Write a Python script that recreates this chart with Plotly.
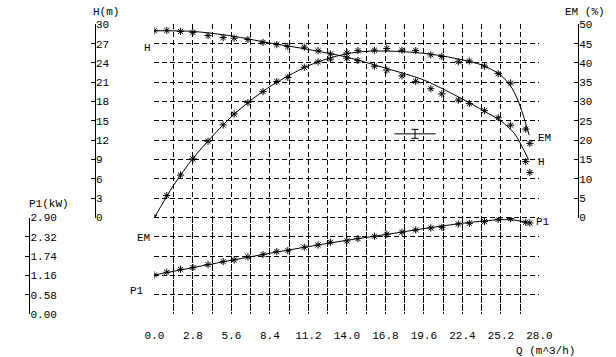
import plotly.graph_objects as go

W, HGT = 616, 357
def px(x):
    return x / W
def py(y):
    return 1 - y / HGT

# ---------------- data ----------------
Q_pts = [0.0, 0.9, 1.9, 2.8, 3.9, 5.0, 5.8, 6.8, 7.9, 8.9, 9.7, 10.9, 11.9, 12.8,
         14.0, 14.8, 16.0, 16.9, 18.0, 19.0, 20.1, 20.9, 22.1, 22.9, 24.0, 25.0,
         25.9, 27.0, 27.3]
H_pts = [29.0, 29.05, 28.9, 28.75, 28.25, 27.95, 27.85, 27.65, 27.2, 26.85, 26.55,
         26.45, 25.9, 25.4, 24.75, 24.4, 23.5, 22.9, 22.0, 21.15, 20.0, 19.2, 18.25,
         17.7, 16.6, 15.5, 14.35, 8.7, 7.0]
EM_pts = [0.0, 5.7, 11.0, 15.2, 19.75, 24.0, 26.8, 29.75, 32.6, 35.2, 36.25, 38.9,
          40.3, 41.0, 42.6, 43.2, 43.3, 43.75, 43.3, 43.2, 42.1, 41.7, 40.3, 40.5,
          39.2, 37.25, 34.8, 22.9, 19.2]
P1_pts = [1.18, 1.26, 1.35, 1.40, 1.49, 1.58, 1.63, 1.72, 1.79, 1.88, 1.91, 2.01,
          2.08, 2.16, 2.20, 2.27, 2.34, 2.40, 2.46, 2.53, 2.59, 2.61, 2.71, 2.73,
          2.78, 2.85, 2.87, 2.76, 2.74]

Q_H_line = [0.0, 2.8, 5.6, 8.4, 11.2, 14.0, 16.8, 19.6, 22.4, 24.0, 25.2, 26.2, 27.2]
H_line = [29.0, 28.9, 28.2, 27.1, 26.1, 24.9, 23.2, 21.35, 18.4, 16.5, 15.0, 13.0, 9.0]

Q_EM_line = [0.0, 1.4, 2.8, 4.2, 5.6, 7.0, 8.4, 9.8, 11.2, 12.6, 14.0, 15.4, 16.8,
             18.2, 19.6, 21.0, 22.4, 23.8, 25.2, 26.0, 26.6, 27.25]
EM_line = [0.0, 8.4, 15.3, 21.0, 26.1, 30.3, 33.9, 36.8, 39.3, 41.1, 42.4, 43.0, 43.1,
           42.9, 42.5, 41.8, 40.8, 39.5, 36.8, 33.5, 28.8, 21.3]

Q_P1_line = [0.0, 2.8, 5.6, 8.4, 11.2, 14.0, 16.8, 19.6, 22.4, 24.0, 25.2, 26.3, 27.1]
P1_line = [1.18, 1.40, 1.62, 1.83, 2.03, 2.22, 2.39, 2.57, 2.73, 2.80, 2.84, 2.82, 2.75]

# operating point with its tolerance range
op_Q = 18.95
op_H = 13.0
op_Q_tol = 1.5
op_H_tol = 0.7

Q_tickvals = [0.0, 1.4, 2.8, 4.2, 5.6, 7.0, 8.4, 9.8, 11.2, 12.6, 14.0, 15.4, 16.8,
              18.2, 19.6, 21.0, 22.4, 23.8, 25.2, 26.6, 28.0]
Q_ticktext = ["0.0", "", "2.8", "", "5.6", "", "8.4", "", "11.2", "", "14.0", "",
              "16.8", "", "19.6", "", "22.4", "", "25.2", "", "28.0"]
H_tickvals = [0, 3, 6, 9, 12, 15, 18, 21, 24, 27, 30]
EM_tickvals = [0, 5, 10, 15, 20, 25, 30, 35, 40, 45, 50]
P1_tickvals = [0.0, 0.58, 1.16, 1.74, 2.32, 2.90]
P1_ticktext = ["0.00", "0.58", "1.16", "1.74", "2.32", "2.90"]
grid_tickvals = [-15, -12, -9, -6, -3, 0, 3, 6, 9, 12, 15, 18, 21, 24, 27, 30]

FONT = "Liberation Mono, DejaVu Sans Mono, monospace"
BLACK = "#000000"
DASH = "5px,3px"

fig = go.Figure()

mk = dict(symbol="asterisk-open", size=6, color=BLACK, line=dict(color=BLACK, width=1))
ln = dict(color=BLACK, width=1, shape="spline", smoothing=0.8)

# empty trace that creates the grid subplot (x / y)
fig.add_trace(go.Scatter(x=[], y=[], xaxis="x", yaxis="y", showlegend=False))

fig.add_trace(go.Scatter(x=Q_H_line, y=H_line, mode="lines", line=ln, xaxis="x", yaxis="y2", showlegend=False, hoverinfo="skip"))
fig.add_trace(go.Scatter(x=Q_pts, y=H_pts, mode="markers", marker=mk, xaxis="x", yaxis="y2", showlegend=False))
# operating point: horizontal range and vertical tolerance bar with caps
fig.add_trace(go.Scatter(x=[op_Q - op_Q_tol, op_Q + op_Q_tol], y=[op_H, op_H], mode="lines",
                         line=dict(color=BLACK, width=1), xaxis="x", yaxis="y2", showlegend=False))
fig.add_trace(go.Scatter(x=[op_Q, op_Q], y=[op_H - op_H_tol, op_H + op_H_tol], mode="lines+markers",
                         line=dict(color=BLACK, width=1),
                         marker=dict(symbol="line-ew-open", size=5, line=dict(color=BLACK, width=1)),
                         xaxis="x", yaxis="y2", showlegend=False))
fig.add_trace(go.Scatter(x=Q_EM_line, y=EM_line, mode="lines", line=ln, xaxis="x", yaxis="y3", showlegend=False, hoverinfo="skip"))
fig.add_trace(go.Scatter(x=Q_pts, y=EM_pts, mode="markers", marker=mk, xaxis="x", yaxis="y3", showlegend=False))
fig.add_trace(go.Scatter(x=Q_P1_line, y=P1_line, mode="lines", line=ln, xaxis="x", yaxis="y4", showlegend=False, hoverinfo="skip"))
fig.add_trace(go.Scatter(x=Q_pts, y=P1_pts, mode="markers", marker=mk, xaxis="x", yaxis="y4", showlegend=False))

top_dom = [py(220), py(20)]
bot_dom = [py(320), py(220)]
full_dom = [py(320), py(20)]

tf = dict(family=FONT, size=11, color=BLACK)

fig.update_layout(
    width=W, height=HGT,
    margin=dict(l=0, r=0, t=0, b=0),
    paper_bgcolor="white", plot_bgcolor="rgba(0,0,0,0)",
    font=tf,
    showlegend=False,
    xaxis=dict(domain=[px(150), px(550)], range=[0, 28], anchor="y",
               tickvals=Q_tickvals, ticktext=Q_ticktext, ticks="outside", ticklen=11,
               tickcolor="rgba(0,0,0,0)", showline=False,
               zeroline=False, showgrid=True, gridcolor=BLACK, gridwidth=1, griddash=DASH,
               tickfont=tf),
    yaxis=dict(domain=full_dom, range=[-15, 30], anchor="x", tickvals=grid_tickvals,
               showticklabels=False, ticks="", showline=False, zeroline=False,
               showgrid=True, gridcolor=BLACK, gridwidth=1, griddash=DASH),
    yaxis2=dict(domain=top_dom, range=[0, 30], anchor="free", position=px(88), side="right",
                tickvals=H_tickvals, ticks="inside", ticklen=4, tickcolor=BLACK,
                showline=True, linecolor=BLACK, linewidth=1, showgrid=False, zeroline=False,
                ticklabelstandoff=-2, tickfont=tf),
    yaxis3=dict(domain=top_dom, range=[0, 50], anchor="free", position=px(590), side="right",
                tickvals=EM_tickvals, ticks="inside", ticklen=4, tickcolor=BLACK,
                showline=True, linecolor=BLACK, linewidth=1, showgrid=False, zeroline=False,
                ticklabelstandoff=-2, tickfont=tf),
    yaxis4=dict(domain=bot_dom, range=[0, 2.9], anchor="free", position=px(20), side="right",
                tickvals=P1_tickvals, ticktext=P1_ticktext, ticks="inside", ticklen=4,
                tickcolor=BLACK, showline=True, linecolor=BLACK, linewidth=1,
                showgrid=False, zeroline=False, ticklabelstandoff=-2, tickfont=tf),
)

labels = [
    ("H(m)", 100, 7.5, 0), ("EM (%)", 597, 7, 0), ("P1(kW)", 40, 206, 0),
    ("H", 143, 45, 0), ("EM", 139, 241, 0), ("P1", 132, 296, 0),
    ("EM", 555, 138, 0), ("H", 552, 162, 0), ("P1", 554, 225, 0),
    ("Q (m^3/h)", 556, 351, -7),
]
for t, x, y, ys in labels:
    fig.add_annotation(text=t, x=px(x), y=py(y), xref="paper", yref="paper",
                       showarrow=False, xanchor="center", yanchor="middle",
                       yshift=ys, font=tf)

fig.write_html("out.html")
